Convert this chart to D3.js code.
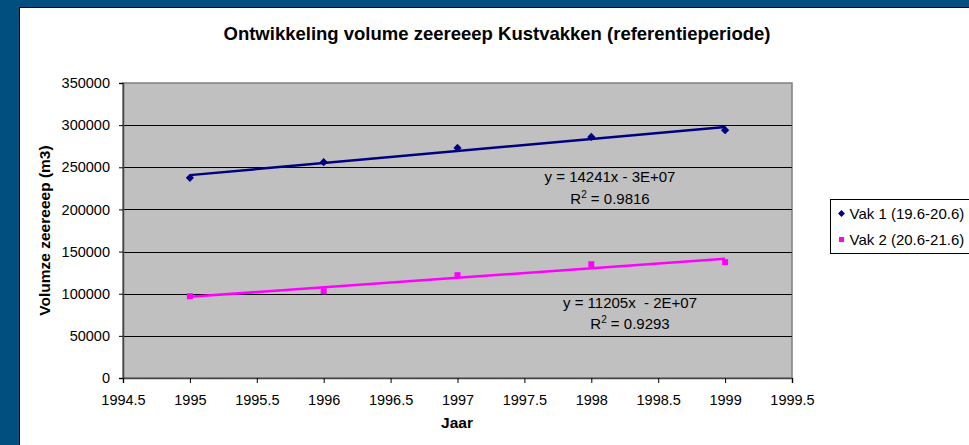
<!DOCTYPE html>
<html>
<head>
<meta charset="utf-8">
<script src="https://cdn.jsdelivr.net/npm/d3@7"></script>
<style>
  body { margin: 0; background: #004f7f; }
  text { font-family: "Liberation Sans", Arial, sans-serif; }
</style>
</head>
<body>
<script>
// Data
const years = [1995, 1996, 1997, 1998, 1999];
const vak1 = [237500, 256000, 273000, 286000, 294000];
const vak2 = [97000, 103000, 122000, 135000, 137500];
const seriesNames = ['Vak 1 (19.6-20.6)', 'Vak 2 (20.6-21.6)'];
const eqLabels = ['y = 14241x - 3E+07', 'y = 11205x  - 2E+07'];
const r2Labels = [' = 0.9816', ' = 0.9293'];
const xTicks = [1994.5, 1995, 1995.5, 1996, 1996.5, 1997, 1997.5, 1998, 1998.5, 1999, 1999.5];
const yTicks = [0, 50000, 100000, 150000, 200000, 250000, 300000, 350000];

const width = 969, height = 445;
const plot = { left: 123, top: 83, right: 792, bottom: 378 };
const font = '"Liberation Sans", Arial, sans-serif';

const svg = d3.select('body').append('svg')
  .attr('width', width)
  .attr('height', height)
  .style('display', 'block');

// blue frame + white chart area
svg.append('rect').attr('width', width).attr('height', height).attr('fill', '#004f7f');
svg.append('rect')
  .attr('x', 19.5).attr('y', 7.5)
  .attr('width', width).attr('height', height)
  .attr('fill', '#fff').attr('stroke', '#000').attr('stroke-width', 1);

const x = d3.scaleLinear().domain([1994.5, 1999.5]).range([plot.left, plot.right]);
const y = d3.scaleLinear().domain([0, 350000]).range([plot.bottom, plot.top]);

// plot area
svg.append('rect')
  .attr('x', plot.left).attr('y', plot.top)
  .attr('width', plot.right - plot.left).attr('height', plot.bottom - plot.top)
  .attr('fill', '#c0c0c0').attr('stroke', '#808080').attr('stroke-width', 1.5);

// gridlines
svg.append('g').selectAll('line')
  .data(yTicks.filter(d => d > 0 && d < 350000))
  .enter().append('line')
  .attr('x1', plot.left).attr('x2', plot.right)
  .attr('y1', d => Math.round(y(d)) + 0.5).attr('y2', d => Math.round(y(d)) + 0.5)
  .attr('stroke', '#000').attr('stroke-width', 1);

// axes
const yAxis = svg.append('g')
  .attr('transform', `translate(${plot.left},0)`)
  .call(d3.axisLeft(y).tickValues(yTicks).tickSize(4).tickPadding(9).tickFormat(d3.format('d')));
const xAxis = svg.append('g')
  .attr('transform', `translate(0,${plot.bottom})`)
  .call(d3.axisBottom(x).tickValues(xTicks).tickSize(5).tickPadding(12).tickFormat(d => String(d)));
[yAxis, xAxis].forEach(a => {
  a.attr('font-family', font).attr('font-size', 14.5);
  a.selectAll('text').attr('fill', '#000');
  a.select('.domain').attr('stroke', '#444').attr('stroke-width', 1.5);
  a.selectAll('.tick line').attr('stroke', '#000');
});

// regression
function fit(xs, ys) {
  const mx = d3.mean(xs), my = d3.mean(ys);
  const s = d3.sum(xs, (v, i) => (v - mx) * (ys[i] - my)) / d3.sum(xs, v => (v - mx) ** 2);
  return { slope: s, icpt: my - s * mx };
}

const series = [
  { values: vak1, color: '#000080', rot: 45, size: 34 },
  { values: vak2, color: '#ff00ff', rot: 0, size: 36 }
];

series.forEach(s => {
  const f = fit(years, s.values);
  const ends = [years[0], years[years.length - 1]];
  svg.append('line')
    .attr('x1', x(ends[0])).attr('y1', y(f.slope * ends[0] + f.icpt))
    .attr('x2', x(ends[1])).attr('y2', y(f.slope * ends[1] + f.icpt))
    .attr('stroke', s.color).attr('stroke-width', 2.5);
  svg.append('g').selectAll('path')
    .data(s.values)
    .enter().append('path')
    .attr('d', d3.symbol().type(d3.symbolSquare).size(s.size))
    .attr('transform', (d, i) => `translate(${x(years[i])},${y(d)}) rotate(${s.rot})`)
    .attr('fill', s.color);
});

// equation labels
const eqPos = [[610, 182, 204], [630, 308, 329]];
eqPos.forEach((p, i) => {
  svg.append('text').attr('x', p[0]).attr('y', p[1])
    .attr('text-anchor', 'middle').attr('font-size', 15).style('white-space', 'pre')
    .text(eqLabels[i]);
  const t = svg.append('text').attr('x', p[0]).attr('y', p[2])
    .attr('text-anchor', 'middle').attr('font-size', 15);
  t.append('tspan').text('R');
  t.append('tspan').attr('font-size', 10).attr('dy', -6).text('2');
  t.append('tspan').attr('dy', 6).text(r2Labels[i]);
});

// title and axis titles
svg.append('text').attr('x', 497).attr('y', 40)
  .attr('text-anchor', 'middle').attr('font-size', 18.5).attr('font-weight', 'bold')
  .text('Ontwikkeling volume zeereeep Kustvakken (referentieperiode)');
svg.append('text').attr('x', 457).attr('y', 428)
  .attr('text-anchor', 'middle').attr('font-size', 15.5).attr('font-weight', 'bold')
  .text('Jaar');
svg.append('text')
  .attr('transform', `translate(50,${(plot.top + plot.bottom) / 2}) rotate(-90)`)
  .attr('text-anchor', 'middle').attr('font-size', 15.5).attr('font-weight', 'bold')
  .text('Volumze zeereeep (m3)');

// legend
const lg = svg.append('g').attr('transform', 'translate(830.5,199.5)');
lg.append('rect').attr('width', 150).attr('height', 54)
  .attr('fill', '#fff').attr('stroke', '#000').attr('stroke-width', 1);
series.forEach((s, i) => {
  const row = lg.append('g').attr('transform', `translate(0,${14 + i * 26})`);
  row.append('path')
    .attr('d', d3.symbol().type(d3.symbolSquare).size(s.size * 0.7))
    .attr('transform', `translate(11,0) rotate(${s.rot})`)
    .attr('fill', s.color);
  row.append('text').attr('x', 19).attr('y', 5.5).attr('font-size', 15)
    .text(seriesNames[i]);
});
</script>
</body>
</html>
